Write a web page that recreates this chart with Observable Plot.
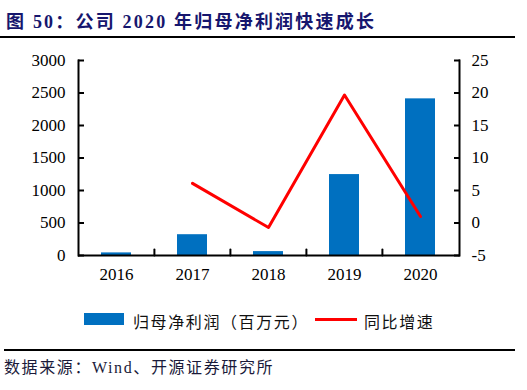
<!DOCTYPE html>
<html>
<head>
<meta charset="utf-8">
<script src="https://cdn.jsdelivr.net/npm/d3@7"></script>
<script src="https://cdn.jsdelivr.net/npm/@observablehq/plot@0.6"></script>
<style>
  html, body { margin: 0; padding: 0; background: #fff; }
  #wrap { position: relative; width: 527px; height: 390px; overflow: hidden; background: #fff;
          font-family: "Liberation Serif", "Noto Sans CJK SC", serif; }
  #title { position: absolute; left: 6px; top: 7px; font-size: 18px; font-weight: bold; color: #16166e;
           letter-spacing: 2.2px; white-space: nowrap; }
  .rule { position: absolute; height: 2px; background: #000; }
  #chart { position: absolute; left: 0; top: 40px; }
  .legend { position: absolute; font-size: 16px; color: #111; white-space: nowrap; letter-spacing: 1.6px; }
  #source { position: absolute; left: 4px; top: 354px; font-size: 16px; color: #1a1a3a; letter-spacing: 1.6px; white-space: nowrap; }
</style>
</head>
<body>
<div id="wrap">
  <div id="title">图 50：公司 2020 年归母净利润快速成长</div>
  <div class="rule" style="left:0;top:36px;width:515px;"></div>
  <div id="chart"></div>
  <div class="legend" style="left:84px;top:313px;width:40px;height:12px;background:#0070C0;"></div>
  <div class="legend" id="lg1" style="left:133px;top:309px;">归母净利润（百万元）</div>
  <div class="legend" style="left:315px;top:318px;width:42px;height:3px;background:#FF0000;"></div>
  <div class="legend" id="lg2" style="left:364px;top:309px;">同比增速</div>
  <div class="rule" style="left:4px;top:349px;width:511px;"></div>
  <div id="source">数据来源：Wind、开源证券研究所</div>
</div>
<script>
const years = ["2016", "2017", "2018", "2019", "2020"];
const profit = [40, 320, 60, 1245, 2410];          // 归母净利润（百万元）
const growth = [null, 6.1, -0.7, 19.7, 1.0];        // 同比增速
const leftTicks = [0, 500, 1000, 1500, 2000, 2500, 3000];
const rightTicks = [-5, 0, 5, 10, 15, 20, 25];

const leftMax = 3000, rightMin = -5, rightMax = 25;
const toLeft = v => (v - rightMin) / (rightMax - rightMin) * leftMax;
const fromLeft = v => v / leftMax * (rightMax - rightMin) + rightMin;

const W = 527, H = 260, mL = 78, mR = 68, mT = 20, mB = 45;
const step = (W - mL - mR) / years.length;

const tickUp = { draw(context, l) { context.moveTo(0, 0); context.lineTo(0, -l); } };

const bars = years.map((y, i) => ({ year: y, value: profit[i] }));
const line = years.map((y, i) => ({ year: y, value: growth[i] })).filter(d => d.value != null);

const chart = Plot.plot({
  width: W, height: H,
  marginLeft: mL, marginRight: mR, marginTop: mT, marginBottom: mB,
  style: { fontFamily: "Liberation Serif, serif", fontSize: "17px", color: "#000", background: "transparent" },
  x: { type: "band", domain: years, paddingInner: 0.6, paddingOuter: 0.3, label: null },
  y: { domain: [0, leftMax], label: null },
  marks: [
    Plot.barY(bars, { x: "year", y: "value", fill: "#0070C0" }),
    Plot.line(line, { x: "year", y: d => toLeft(d.value), stroke: "#FF0000", strokeWidth: 3 }),
    Plot.axisY({ anchor: "left", ticks: leftTicks, tickFormat: v => String(v), tickSize: -6, tickPadding: 19, strokeWidth: 2, label: null }),
    Plot.axisY({ anchor: "right", ticks: rightTicks.map(toLeft), tickFormat: v => String(Math.round(fromLeft(v))),
                 tickSize: -6, tickPadding: 18, strokeWidth: 2, textAnchor: "start", label: null }),
    Plot.axisX({ anchor: "bottom", tickSize: 0, tickPadding: 12, label: null }),
    Plot.vector(years.slice(1), { x: d => d, frameAnchor: "bottom", dx: -step / 2, length: 6, rotate: 0,
                                  anchor: "start", shape: tickUp, stroke: "#000", strokeWidth: 2 }),
    Plot.ruleY([0], { stroke: "#000", strokeWidth: 2 }),
    Plot.frame({ anchor: "left", stroke: "#000", strokeWidth: 2 }),
    Plot.frame({ anchor: "right", stroke: "#000", strokeWidth: 2 })
  ]
});
document.getElementById("chart").appendChild(chart);
</script>
</body>
</html>
